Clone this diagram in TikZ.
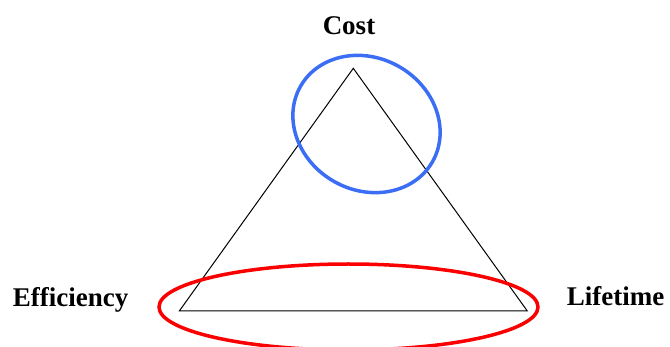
\documentclass[tikz,border=0pt]{standalone}
\usepackage{fontspec}
\setmainfont{Liberation Serif}
\definecolor{ovblue}{RGB}{60,110,245}
\definecolor{ovred}{RGB}{250,0,0}
\begin{document}
\begin{tikzpicture}[x=1pt,y=-1pt,
  lbl/.style={font=\fontsize{27}{30}\selectfont\bfseries, inner sep=0pt},
  tri/.style={draw=black, line width=1pt, line join=miter},
  ov/.style={line width=3.5pt}]
\useasboundingbox (0,0) rectangle (670,347);
\coordinate (top) at (353.3,68.3);
\coordinate (bl) at (179.3,311);
\coordinate (br) at (527.3,311);
\draw[tri] (top) -- (bl) -- (br) -- cycle;
\draw[ov, ovblue] (366.5,124) ellipse [x radius=76, y radius=66, rotate=-30];
\draw[ov, ovred] (348.5,307) ellipse [x radius=189.5, y radius=43];
\node[lbl, anchor=base] (cost) at (349,35) {Cost};
\node[lbl, anchor=base west] (eff) at (12.7,306.7) {Efficiency};
\node[lbl, anchor=base west] (life) at (566.7,306) {Lifetime};
\end{tikzpicture}
\end{document}
